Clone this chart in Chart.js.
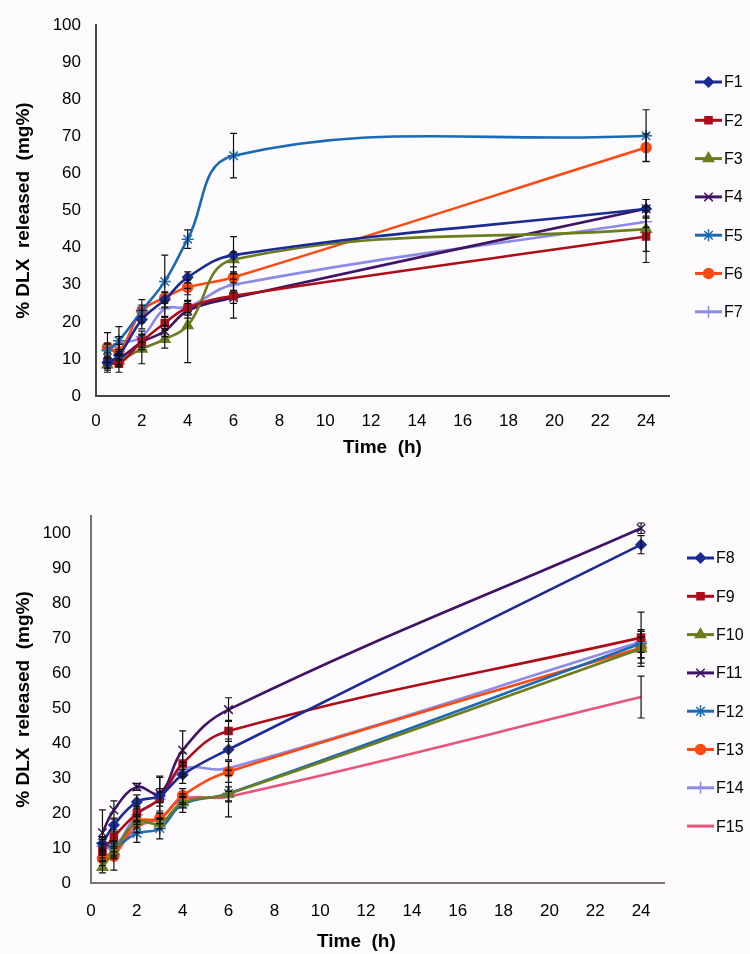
<!DOCTYPE html>
<html>
<head>
<meta charset="utf-8">
<script src="https://cdn.jsdelivr.net/npm/chart.js@4/dist/chart.umd.min.js"></script>
<style>
  html, body { margin: 0; padding: 0; background: #fdfbfd; }
  body { width: 750px; height: 954px; position: relative; overflow: hidden; }
  .box { position: absolute; left: 0; width: 750px; }
  #b1 { top: 0; height: 462px; }
  #b2 { top: 480px; height: 474px; }
</style>
</head>
<body>
<div class="box" id="b1"><canvas id="c1"></canvas></div>
<div class="box" id="b2"><canvas id="c2"></canvas></div>
<script>
// ---- data ----
const times = [0.5, 1, 2, 3, 4, 6, 24];
const xTicks = [0, 2, 4, 6, 8, 10, 12, 14, 16, 18, 20, 22, 24];
const yTicks = [0, 10, 20, 30, 40, 50, 60, 70, 80, 90, 100];

const topNames = ['F1', 'F2', 'F3', 'F4', 'F5', 'F6', 'F7'];
const F1 = [9, 11, 20.6, 26, 32, 38, 50.5];
const F2 = [9.3, 8.7, 14.7, 19.7, 23.8, 27, 43];
const F3 = [8.4, 9.5, 12.7, 15.3, 19, 36.8, 45];
const F4 = [9, 10, 14.5, 17.5, 23, 26.5, 50.5];
const F5 = [12.3, 14.9, 23, 30.9, 42.3, 64.8, 70.2];
const F6 = [13.1, 11.9, 22.9, 26.5, 29.3, 32, 67];
const F7 = [12.5, 14, 16, 23.5, 24, 30, 47];
const E1 = [1.5, 1.5, 2.5, 2, 1.5, 5, 2.5];
const E2 = [2.3, 2.3, 1.5, 1.5, 2, 6, 7];
const E3 = [2, 1.5, 4, 2.4, 10, 2, 6];
const E4 = [1.5, 1.5, 2, 1.5, 2, 1.5, 2.5];
const E5 = [2, 3.8, 1.5, 7.1, 2.5, 6, 7];
const E6 = [4, 2, 3.1, 1.5, 2, 1.5, 3.7];
const E7 = [1.5, 2, 1.5, 2, 1.5, 1.5, 1.5];

const botNames = ['F8', 'F9', 'F10', 'F11', 'F12', 'F13', 'F14', 'F15'];
const F8 = [11.3, 16.6, 23.2, 25, 31, 38.2, 96.8];
const F9 = [9.2, 13.2, 19.9, 24.2, 34.2, 43.5, 70.2];
const F10 = [4.5, 9, 17.5, 17, 23, 25.5, 67];
const F11 = [14.4, 20.9, 27.5, 25.6, 38, 49.6, 101.5];
const F12 = [11.5, 10.4, 14.2, 15.6, 22.5, 25.6, 68.5];
const F13 = [7, 7.7, 17.5, 18.5, 25, 31.8, 67.3];
const F14 = [10.5, 10, 19.5, 24, 32.5, 32.8, 69];
const F15 = [8, 8.5, 16, 18.5, 24, 24.7, 53.2];
const E8 = [2, 2, 2, 2, 2.5, 3, 2.6];
const E9 = [2, 2, 2, 6, 3, 3, 7.3];
const E10 = [1.6, 1.5, 1.5, 1.5, 1.5, 2, 5];
const E11 = [6.5, 2.6, 1, 5, 5.5, 3.4, 1.5];
const E12 = [1.5, 1.5, 2.6, 3, 2.3, 6.7, 4];
const E13 = [2, 4, 2, 1.5, 2, 3, 3];
const E14 = [2, 2, 2, 2, 2, 2, 3];
const E15 = [1.5, 1.5, 1.5, 1.5, 1.5, 1.5, 6];

// ---- styles ----
const colors = ['#1a2c94', '#ad0c18', '#6b7d1c', '#401464', '#1b6ab5', '#fb4a12', '#8b8be6', '#e8557a'];
const markers = ['rectRot', 'rect', 'triangle', 'crossRot', 'star', 'circle', 'cross', false];
const radii = [5, 5, 6, 6, 6, 5, 6, 0];
const FONT = "'Liberation Sans', Arial, sans-serif";

function makeDatasets(names, series, errors) {
  return names.map((n, i) => ({
    label: n,
    data: times.map((t, k) => ({ x: t, y: series[i][k] })),
    errors: errors[i],
    borderColor: colors[i],
    backgroundColor: colors[i],
    pointBackgroundColor: colors[i],
    pointBorderColor: colors[i],
    pointStyle: markers[i],
    pointRadius: radii[i],
    pointBorderWidth: 1.5,
    borderWidth: 2.6,
    tension: 0.4,
    fill: false
  }));
}

const errorBars = {
  id: 'errorBars',
  afterDatasetsDraw(chart) {
    const ctx = chart.ctx;
    const ys = chart.scales.y, xs = chart.scales.x;
    ctx.save();
    ctx.strokeStyle = '#111';
    ctx.lineWidth = 1.2;
    chart.data.datasets.forEach(ds => {
      ds.data.forEach((p, k) => {
        const e = ds.errors[k];
        const px = xs.getPixelForValue(p.x);
        const y1 = ys.getPixelForValue(p.y - e);
        const y2 = ys.getPixelForValue(p.y + e);
        ctx.beginPath();
        ctx.moveTo(px, y1); ctx.lineTo(px, y2);
        ctx.moveTo(px - 3.5, y1); ctx.lineTo(px + 3.5, y1);
        ctx.moveTo(px - 3.5, y2); ctx.lineTo(px + 3.5, y2);
        ctx.stroke();
      });
    });
    ctx.restore();
  }
};

function legendPlugin(x0, y0, gap) {
  return {
    id: 'sideLegend',
    afterDraw(chart) {
      const ctx = chart.ctx;
      ctx.save();
      chart.data.datasets.forEach((ds, i) => {
        const y = y0 + i * gap;
        ctx.strokeStyle = ds.borderColor;
        ctx.lineWidth = 3;
        ctx.beginPath();
        ctx.moveTo(x0, y); ctx.lineTo(x0 + 27, y);
        ctx.stroke();
        if (ds.pointStyle) {
          ctx.fillStyle = ds.pointBackgroundColor;
          ctx.strokeStyle = ds.pointBorderColor;
          ctx.lineWidth = 1.5;
          Chart.helpers.drawPoint(ctx, { pointStyle: ds.pointStyle, radius: ds.pointRadius, borderWidth: 1.5, rotation: 0 }, x0 + 13.5, y);
        }
        ctx.fillStyle = '#000';
        ctx.font = '16px ' + FONT;
        ctx.textBaseline = 'middle';
        ctx.textAlign = 'left';
        ctx.fillText(ds.label, x0 + 29, y + 1);
      });
      ctx.restore();
    }
  };
}

function makeOptions(cfg) {
  return {
    responsive: true,
    maintainAspectRatio: false,
    animation: false,
    layout: { padding: { left: 0, right: cfg.right, top: cfg.top, bottom: 0 } },
    plugins: { legend: { display: false }, tooltip: { enabled: false } },
    scales: {
      x: {
        type: 'linear',
        min: 0, max: 25,
        grid: { display: false, drawTicks: false },
        border: { display: true, color: cfg.axisColor, width: 2 },
        afterBuildTicks(s) { s.ticks = xTicks.map(v => ({ value: v })); },
        afterFit(s) { s.height = cfg.xh; },
        ticks: { color: '#000', font: { family: FONT, size: 17 }, padding: cfg.xpad, maxRotation: 0, autoSkip: false },
        title: { display: true, text: cfg.xtitle, color: '#000', font: { family: FONT, size: 19, weight: 'bold' }, padding: { top: 0, bottom: cfg.xtpad } }
      },
      y: {
        type: 'linear',
        min: 0, max: cfg.ymax,
        grid: { display: false, drawTicks: false },
        border: { display: true, color: cfg.axisColor, width: 2 },
        afterBuildTicks(s) { s.ticks = yTicks.map(v => ({ value: v })); },
        afterFit(s) { s.width = cfg.yw; },
        ticks: { color: '#000', font: { family: FONT, size: 17 }, padding: cfg.ypad },
        title: { display: true, text: '% DLX  released  (mg%)', color: '#000', font: { family: FONT, size: 19, weight: 'bold' }, padding: { top: 12, bottom: 0 } }
      }
    }
  };
}

new Chart(document.getElementById('c1'), {
  type: 'line',
  data: { datasets: makeDatasets(topNames, [F1, F2, F3, F4, F5, F6, F7], [E1, E2, E3, E4, E5, E6, E7]) },
  options: makeOptions({ right: 81, top: 8, axisColor: '#4a4548', xh: 66, xpad: 15, xtpad: 3, ymax: 100, yw: 96, ypad: 15, xtitle: 'Time  (h)' }),
  plugins: [errorBars, legendPlugin(695, 82, 38.3)]
});

new Chart(document.getElementById('c2'), {
  type: 'line',
  data: { datasets: makeDatasets(botNames, [F8, F9, F10, F11, F12, F13, F14, F15], [E8, E9, E10, E11, E12, E13, E14, E15]) },
  options: makeOptions({ right: 86, top: 36, axisColor: '#7a7478', xh: 71, xpad: 18, xtpad: 1, ymax: 105, yw: 91, ypad: 20, xtitle: 'Time  (h)        ' }),
  plugins: [errorBars, legendPlugin(687, 78, 38.3)]
});
</script>
</body>
</html>
